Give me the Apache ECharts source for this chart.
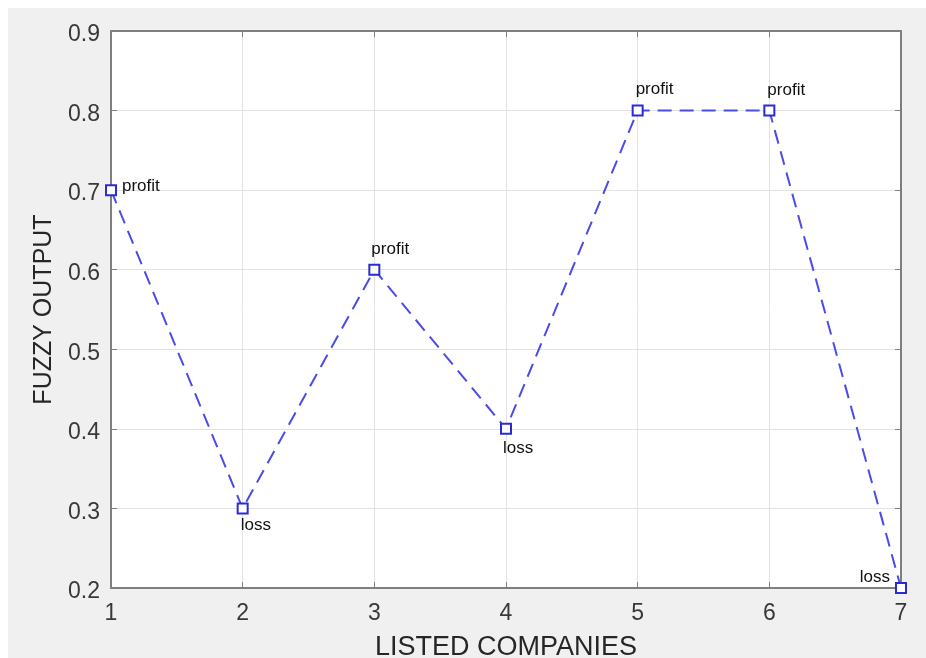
<!DOCTYPE html>
<html>
<head>
<meta charset="utf-8">
<script src="https://cdn.jsdelivr.net/npm/echarts@6/dist/echarts.min.js"></script>
<style>
html,body{margin:0;padding:0;background:#fff;}
#c{width:926px;height:658px;}
</style>
</head>
<body>
<div id="c"></div>
<script>
var companies = [1, 2, 3, 4, 5, 6, 7];
var fuzzyOutput = [0.7, 0.3, 0.6, 0.4, 0.8, 0.8, 0.2];
var outcome = ['profit', 'loss', 'profit', 'loss', 'profit', 'profit', 'loss'];
var yTicks = [0.2, 0.3, 0.4, 0.5, 0.6, 0.7, 0.8, 0.9];

var labelPlacement = [
  {offset: [11, -4], align: 'left'},
  {offset: [-2, 17], align: 'left'},
  {offset: [-3, -20], align: 'left'},
  {offset: [-3, 19], align: 'left'},
  {offset: [-2, -21], align: 'left'},
  {offset: [-2, -20], align: 'left'},
  {offset: [-11, -11], align: 'right'}
];

var data = companies.map(function (c, i) {
  return {
    value: [c, fuzzyOutput[i]],
    label: {
      show: true,
      formatter: outcome[i],
      position: 'inside',
      align: labelPlacement[i].align,
      verticalAlign: 'middle',
      offset: labelPlacement[i].offset
    }
  };
});

var chart = echarts.init(document.getElementById('c'), null, {renderer: 'canvas'});
var font = 'Liberation Sans, Arial, Helvetica, sans-serif';
var frameColor = '#7f7f7f';
var option = {
  animation: false,
  backgroundColor: '#ffffff',
  graphic: [{
    type: 'rect', z: -10, silent: true,
    shape: {x: 8, y: 8, width: 918, height: 650},
    style: {fill: '#f0f0f0'}
  }],
  grid: {left: 111, top: 31, width: 790, height: 557, show: true, backgroundColor: '#ffffff',
    borderWidth: 0, z: 0, containLabel: false, outerBoundsMode: 'none'},
  xAxis: [{
    type: 'value', min: 1, max: 7, interval: 1, position: 'bottom',
    name: 'LISTED COMPANIES', nameLocation: 'middle', nameGap: 46,
    nameTextStyle: {fontFamily: font, fontSize: 27, color: '#262626'},
    axisLine: {show: true, lineStyle: {color: frameColor, width: 2}},
    axisTick: {show: true, inside: true, length: 6, lineStyle: {color: frameColor}},
    axisLabel: {fontFamily: font, fontSize: 23, color: '#383838', margin: 14},
    splitLine: {show: true, lineStyle: {color: '#e3e3e3', width: 1}}
  }, {
    type: 'value', min: 1, max: 7, interval: 1, position: 'top',
    axisLine: {show: true, lineStyle: {color: frameColor, width: 2}},
    axisTick: {show: true, inside: true, length: 6, lineStyle: {color: frameColor}},
    axisLabel: {show: false}, splitLine: {show: false}
  }],
  yAxis: [{
    type: 'value', min: 0.2, max: 0.9, interval: 0.1, position: 'left',
    name: 'FUZZY OUTPUT', nameLocation: 'middle', nameGap: 54,
    nameTextStyle: {fontFamily: font, fontSize: 25, color: '#262626'},
    axisLine: {show: true, lineStyle: {color: frameColor, width: 2}},
    axisTick: {show: true, inside: true, length: 6, lineStyle: {color: frameColor}},
    axisLabel: {fontFamily: font, fontSize: 23, color: '#383838', margin: 11,
      verticalAlign: 'top', lineHeight: 8,
      formatter: function (v) { return v.toFixed(1); }},
    splitLine: {show: true, lineStyle: {color: '#e3e3e3', width: 1}}
  }, {
    type: 'value', min: 0.2, max: 0.9, interval: 0.1, position: 'right',
    axisLine: {show: true, lineStyle: {color: frameColor, width: 2}},
    axisTick: {show: true, inside: true, length: 6, lineStyle: {color: frameColor}},
    axisLabel: {show: false}, splitLine: {show: false}
  }],
  series: [{
    type: 'line',
    data: data,
    clip: false,
    symbol: 'rect',
    symbolSize: 10,
    lineStyle: {color: '#4b4be6', width: 2, type: [14, 8]},
    itemStyle: {color: '#ffffff', borderColor: '#2a2ad8', borderWidth: 2},
    label: {color: '#111111', fontFamily: font, fontSize: 17},
    z: 5
  }]
};
chart.setOption(option);
</script>
</body>
</html>
